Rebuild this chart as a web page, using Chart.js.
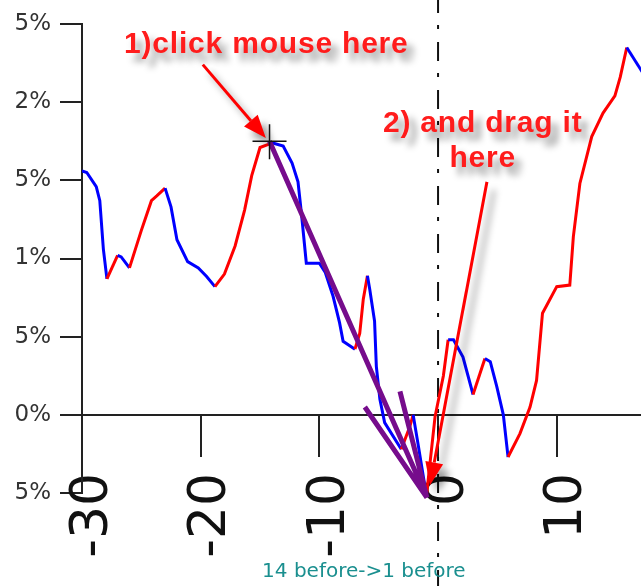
<!DOCTYPE html>
<html>
<head>
<meta charset="utf-8">
<script src="https://cdn.jsdelivr.net/npm/chart.js@4.4.1/dist/chart.umd.min.js"></script>
<style>
  html, body { margin: 0; padding: 0; background: #fff; }
</style>
</head>
<body>
<canvas id="moveChart" width="641" height="586"></canvas>
<script>
// days relative to the event, and the % move
const dayOffsets = [
  -30, -29.6, -28.8, -28.5, -28.2, -27.9, -27.0, -26.7, -26.0, -25.0,
  -24.15, -23.7, -23.0, -22.5, -22.0, -21.1, -20.2, -19.5, -18.8, -18.0,
  -17.1, -16.3, -15.7, -15.0, -14.3, -14.0, -13.05, -12.3, -11.8, -11.5,
  -11.1, -10.0, -9.5, -8.85, -8.3, -8.0, -7.0, -6.6, -6.3, -5.95,
  -5.75, -5.35, -5.2, -4.9, -4.5, -3.1, -2.4, -2.1, -1.7, -1.1,
  -0.95, -0.25, 0.45, 0.85, 1.3, 2.1, 2.95, 3.95, 4.4, 4.95,
  5.5, 5.9, 6.9, 7.75, 8.3, 8.8, 10.0, 11.1, 11.4, 11.95,
  12.95, 13.9, 14.9, 15.35, 15.9, 17.4
];
const pctChange = [
  1.56, 1.55, 1.46, 1.37, 1.06, 0.87, 1.02, 1.01, 0.94, 1.18,
  1.37, 1.40, 1.45, 1.33, 1.12, 0.98, 0.94, 0.885, 0.82, 0.90,
  1.08, 1.31, 1.53, 1.71, 1.73, 1.74, 1.72, 1.61, 1.49, 1.28,
  0.97, 0.97, 0.91, 0.76, 0.59, 0.47, 0.42, 0.52, 0.74, 0.89,
  0.80, 0.60, 0.31, 0.10, -0.05, -0.22, -0.08, 0.00, -0.18, -0.46,
  -0.50, -0.01, 0.25, 0.48, 0.48, 0.37, 0.13, 0.36, 0.34, 0.18,
  0.00, -0.27, -0.12, 0.05, 0.22, 0.65, 0.82, 0.83, 1.14, 1.48,
  1.78, 1.93, 2.04, 2.16, 2.35, 2.17
];

const xTickValues = [-30, -20, -10, 0, 10];
const yTickValues = [-0.5, 0, 0.5, 1, 1.5, 2, 2.5];
const yTickLabels = ["5%", "0%", "5%", "1%", "5%", "2%", "5%"];

const clickText = "1)click mouse here";
const dragText = ["2) and drag it", "here"];
const bottomNote = "14 before->1 before";

// annotation anchors, in data units (day, %)
const dragFrom = [-14.2, 1.75];
const dragTo = [-0.94, -0.53];
const dragBarbs = [[-6.17, 0.05], [-3.21, 0.15]];
const clickArrow = [[-19.82, 2.24], [-14.51, 1.77]];
const dropArrow = [[4.12, 1.49], [-0.68, -0.45]];
const clickTextAt = [-14.47, 2.316];
const dragTextAt = [3.76, 1.811, 1.587];
const noteAt = [-6.25, -1.036];

const RED = "#ff0000";
const BLUE = "#0000ff";

function toPx(chart, x, y) {
  return [chart.scales.x.getPixelForValue(x), chart.scales.y.getPixelForValue(y)];
}

function redArrow(ctx, a, b) {
  const ang = Math.atan2(b[1] - a[1], b[0] - a[0]);
  const len = 23, half = 9;
  const bx = b[0] - Math.cos(ang) * len, by = b[1] - Math.sin(ang) * len;
  ctx.beginPath();
  ctx.moveTo(a[0], a[1]);
  ctx.lineTo(bx, by);
  ctx.stroke();
  ctx.beginPath();
  ctx.moveTo(b[0], b[1]);
  ctx.lineTo(bx + Math.sin(ang) * half, by - Math.cos(ang) * half);
  ctx.lineTo(bx - Math.sin(ang) * half, by + Math.cos(ang) * half);
  ctx.closePath();
  ctx.fill();
}

const overlayPlugin = {
  id: "overlay",
  beforeDatasetsDraw(chart) {
    const ctx = chart.ctx;
    const x0 = chart.scales.x.getPixelForValue(0);
    ctx.save();
    ctx.strokeStyle = "#111";
    ctx.lineWidth = 2;
    ctx.setLineDash([19, 12, 4, 13]);
    ctx.lineDashOffset = 6;
    ctx.beginPath();
    ctx.moveTo(x0, 0);
    ctx.lineTo(x0, chart.height);
    ctx.stroke();
    ctx.restore();
  },
  afterDatasetsDraw(chart) {
    const ctx = chart.ctx;
    ctx.save();

    // purple drag arrow
    const from = toPx(chart, dragFrom[0], dragFrom[1]);
    const to = toPx(chart, dragTo[0], dragTo[1]);
    ctx.strokeStyle = "#760c8c";
    ctx.lineWidth = 5;
    ctx.beginPath();
    ctx.moveTo(from[0], from[1]);
    ctx.lineTo(to[0], to[1]);
    dragBarbs.forEach((b) => {
      const p = toPx(chart, b[0], b[1]);
      ctx.moveTo(p[0], p[1]);
      ctx.lineTo(to[0], to[1]);
    });
    ctx.stroke();

    // red arrows and labels with a soft shadow
    ctx.shadowColor = "rgba(0,0,0,0.4)";
    ctx.shadowBlur = 7;
    ctx.shadowOffsetX = 7;
    ctx.shadowOffsetY = 8;
    ctx.strokeStyle = RED;
    ctx.fillStyle = RED;
    ctx.lineWidth = 3;
    redArrow(ctx, toPx(chart, ...clickArrow[0]), toPx(chart, ...clickArrow[1]));
    redArrow(ctx, toPx(chart, ...dropArrow[0]), toPx(chart, ...dropArrow[1]));

    ctx.fillStyle = "#ff1c1c";
    ctx.font = "bold 30px 'Liberation Sans', Arial, sans-serif";
    ctx.letterSpacing = "0.8px";
    ctx.textAlign = "center";
    ctx.textBaseline = "alphabetic";
    let p = toPx(chart, clickTextAt[0], clickTextAt[1]);
    ctx.fillText(clickText, p[0], p[1]);
    p = toPx(chart, dragTextAt[0], dragTextAt[1]);
    ctx.fillText(dragText[0], p[0], p[1]);
    p = toPx(chart, dragTextAt[0], dragTextAt[2]);
    ctx.fillText(dragText[1], p[0], p[1]);
    ctx.restore();

    // crosshair at the click point
    ctx.save();
    ctx.strokeStyle = "#111";
    ctx.lineWidth = 1.5;
    ctx.beginPath();
    ctx.moveTo(from[0] - 17, from[1]);
    ctx.lineTo(from[0] + 17, from[1]);
    ctx.moveTo(from[0], from[1] - 17);
    ctx.lineTo(from[0], from[1] + 18);
    ctx.stroke();

    // caption under the axis
    ctx.fillStyle = "#1a8f8f";
    ctx.font = "20px 'DejaVu Sans', sans-serif";
    ctx.textAlign = "center";
    p = toPx(chart, noteAt[0], noteAt[1]);
    ctx.fillText(bottomNote, p[0], p[1]);
    ctx.restore();
  }
};

const ctx = document.getElementById("moveChart").getContext("2d");

const moveChart = new Chart(ctx, {
  type: "line",
  data: {
    datasets: [
      {
        data: dayOffsets.map((d, i) => ({ x: d, y: pctChange[i] })),
        borderWidth: 3,
        pointRadius: 0,
        tension: 0,
        borderColor: BLUE,
        segment: {
          borderColor: (c) => (c.p1.parsed.y > c.p0.parsed.y ? RED : BLUE),
        },
      },
    ],
  },
  options: {
    responsive: false,
    devicePixelRatio: 1,
    animation: false,
    layout: { padding: { top: 24, bottom: 93, left: 0, right: 0 } },
    plugins: {
      legend: { display: false },
      tooltip: { enabled: false },
    },
    scales: {
      x: {
        type: "linear",
        min: -30,
        max: 17.1,
        position: { y: 0 },
        afterBuildTicks: (s) => {
          s.ticks = xTickValues.map((v) => ({ value: v }));
        },
        grid: { drawOnChartArea: false, drawTicks: true, tickLength: 41, color: "#222", lineWidth: 2 },
        border: { display: true, color: "#222", width: 2 },
        ticks: {
          autoSkip: false,
          minRotation: 90,
          maxRotation: 90,
          padding: 17,
          labelOffset: 11,
          color: "#111",
          font: { family: "DejaVu Sans", size: 52 },
          callback: (v) => String(v),
        },
      },
      y: {
        type: "linear",
        min: -0.5,
        max: 2.5,
        afterBuildTicks: (s) => {
          s.ticks = yTickValues.map((v) => ({ value: v }));
        },
        afterFit: (s) => {
          s.width = 82;
        },
        grid: { drawOnChartArea: false, drawTicks: true, tickLength: 22, color: "#222", lineWidth: 2 },
        border: { display: true, color: "#222", width: 2 },
        ticks: {
          padding: 9,
          color: "#333",
          font: { family: "DejaVu Sans", size: 23 },
          callback: (v) => yTickLabels[yTickValues.indexOf(v)],
        },
      },
    },
  },
  plugins: [overlayPlugin],
});
</script>
</body>
</html>
